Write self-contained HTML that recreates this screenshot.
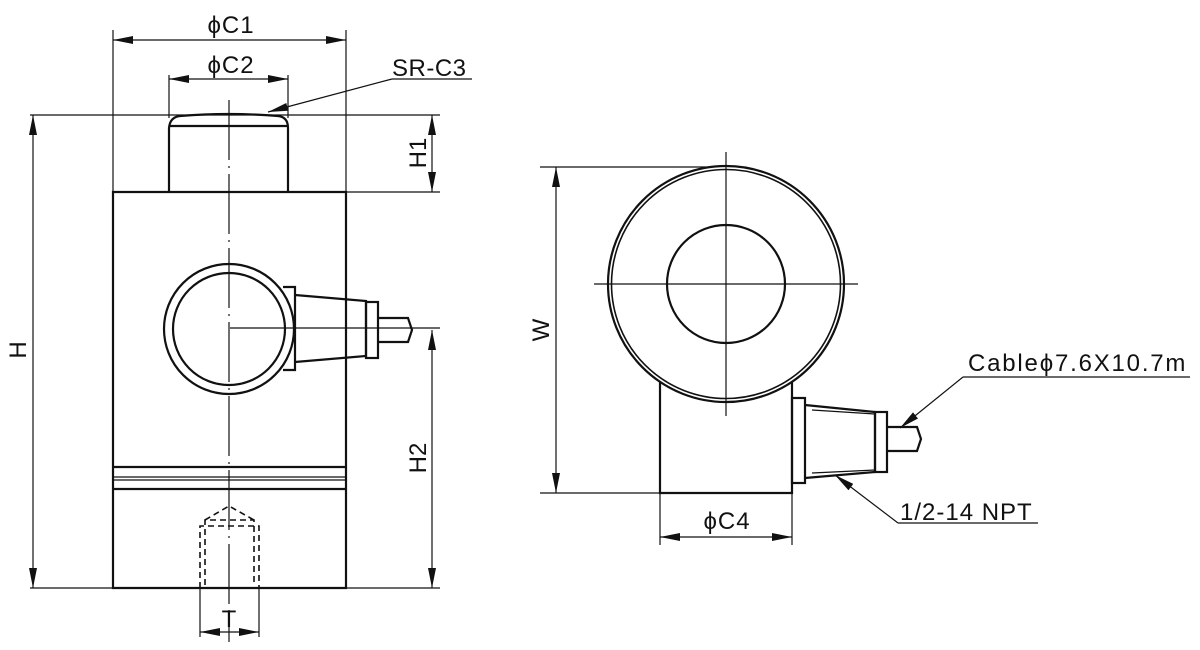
<!DOCTYPE html>
<html><head><meta charset="utf-8"><style>
html,body{margin:0;padding:0;background:#fff;}
svg{display:block;}
text{font-family:"Liberation Sans",sans-serif;fill:#111;}
</style></head><body>
<svg width="1200" height="650" viewBox="0 0 1200 650" xmlns="http://www.w3.org/2000/svg">
<defs>
<marker id="a" viewBox="0 0 20 8" refX="20" refY="4" markerWidth="20" markerHeight="8" markerUnits="userSpaceOnUse" orient="auto-start-reverse">
<path d="M0,0 L20,4 L0,8 Z" fill="#111"/></marker>
</defs>
<g stroke="#111" fill="none">
<!-- LEFT VIEW -->
<g stroke-width="1.2">
<line x1="113" y1="30" x2="113" y2="192"/>
<line x1="346" y1="30" x2="346" y2="192"/>
<line x1="169" y1="75" x2="169" y2="118"/>
<line x1="288" y1="75" x2="288" y2="118"/>
<line x1="30" y1="115" x2="440" y2="115"/>
<line x1="346" y1="192" x2="440" y2="192"/>
<line x1="30" y1="588" x2="440" y2="588"/>
<line x1="230" y1="328" x2="440" y2="328"/>
<line x1="200" y1="588" x2="200" y2="637"/>
<line x1="259" y1="588" x2="259" y2="637"/>
<line x1="113" y1="40" x2="346" y2="40" marker-start="url(#a)" marker-end="url(#a)"/>
<line x1="169" y1="79" x2="288" y2="79" marker-start="url(#a)" marker-end="url(#a)"/>
<line x1="33" y1="115" x2="33" y2="588" marker-start="url(#a)" marker-end="url(#a)"/>
<line x1="432" y1="115" x2="432" y2="192" marker-start="url(#a)" marker-end="url(#a)"/>
<line x1="432" y1="330" x2="432" y2="588" marker-start="url(#a)" marker-end="url(#a)"/>
<line x1="200" y1="632" x2="259" y2="632" marker-start="url(#a)" marker-end="url(#a)"/>
<line x1="472" y1="79" x2="392" y2="79"/>
<line x1="392" y1="79" x2="268" y2="112" marker-end="url(#a)"/>
<line x1="229" y1="100" x2="229" y2="642" stroke-dasharray="60,6,2,6"/>
</g>
<g stroke-width="2.2">
<path d="M169,192 L169,128 Q170,117 180,116 Q229,112 278,116 Q288,117 288,128 L288,192"/>
<line x1="170" y1="126" x2="287" y2="126"/>
<path d="M113,588 L113,192 L346,192 L346,588 Z"/>
<line x1="113" y1="467" x2="346" y2="467"/>
<line x1="113" y1="489" x2="346" y2="489"/>
<line x1="113" y1="477" x2="346" y2="477" stroke-width="1.2"/>
<line x1="113" y1="480" x2="346" y2="480" stroke-width="1.2"/>
<circle cx="229" cy="329" r="65"/>
<circle cx="229" cy="329" r="56"/>
<path d="M283,287 L295,287 L295,370 L283,370"/>
<path d="M295,295 L366,301 L366,356 L295,362"/>
<rect x="366" y="302" width="12" height="56"/>
<path d="M378,318 L408,318 L412,330 L408,342 L378,342"/>
</g>
<g stroke-width="1.6" stroke-dasharray="6,4">
<path d="M200,588 L200,526 L259,526 L259,588"/>
<path d="M205,585 L205,520 L254,520 L254,585"/>
<path d="M205,520 L229,506 L254,520"/>
</g>

<!-- RIGHT VIEW -->
<g stroke-width="1.2">
<line x1="540" y1="167" x2="726" y2="167"/>
<line x1="540" y1="493" x2="660" y2="493"/>
<line x1="556" y1="167" x2="556" y2="493" marker-start="url(#a)" marker-end="url(#a)"/>
<line x1="660" y1="493" x2="660" y2="545"/>
<line x1="792" y1="493" x2="792" y2="545"/>
<line x1="660" y1="537" x2="792" y2="537" marker-start="url(#a)" marker-end="url(#a)"/>
<line x1="1190" y1="377" x2="963" y2="377"/>
<line x1="963" y1="377" x2="900" y2="428" marker-end="url(#a)"/>
<line x1="1038" y1="523" x2="898" y2="523"/>
<line x1="898" y1="523" x2="835" y2="475" marker-end="url(#a)"/>
</g>
<g stroke-width="2.2">
<path d="M660,382 L660,493 L792,493 L792,382"/>
<circle cx="726" cy="284" r="118" fill="#fff"/>
<circle cx="726" cy="284" r="114.5" stroke-width="1.6"/>
<circle cx="726" cy="284" r="59"/>
<rect x="792" y="398" width="13" height="85"/>
<path d="M805,405 L875,412 L875,472 L805,478"/>
<line x1="812" y1="410" x2="875" y2="414" stroke-width="1.2"/>
<line x1="812" y1="473" x2="875" y2="470" stroke-width="1.2"/>
<rect x="875" y="412" width="12" height="60"/>
<path d="M887,427 L917,427 L921,439 L917,451 L887,451"/>
</g>
<line x1="594" y1="284" x2="858" y2="284" stroke-width="1.2"/>
<line x1="726" y1="152" x2="726" y2="416" stroke-width="1.2"/>
</g>
<g font-size="24">
<text x="231" y="33" text-anchor="middle" letter-spacing="1">ϕC1</text>
<text x="231" y="73" text-anchor="middle" letter-spacing="1">ϕC2</text>
<text x="392" y="76" letter-spacing="0.5">SR-C3</text>
<text transform="translate(26,350) rotate(-90)" text-anchor="middle">H</text>
<text transform="translate(426,153) rotate(-90)" text-anchor="middle">H1</text>
<text transform="translate(426,458) rotate(-90)" text-anchor="middle">H2</text>
<text x="229" y="627" text-anchor="middle">T</text>
<text transform="translate(549,330) rotate(-90)" text-anchor="middle">W</text>
<text x="727" y="529" text-anchor="middle" letter-spacing="1">ϕC4</text>
<text x="968" y="371" letter-spacing="1.8">Cableϕ7.6X10.7m</text>
<text x="900" y="520" letter-spacing="1">1/2-14 NPT</text>
</g>
</svg>
</body></html>
